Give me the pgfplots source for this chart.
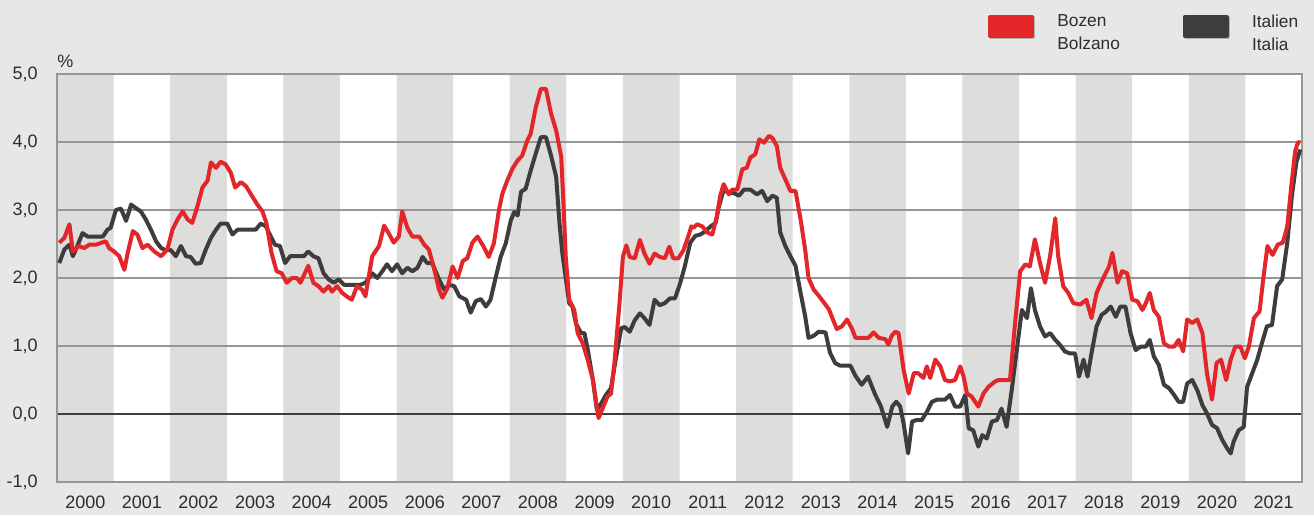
\documentclass[border=0pt]{standalone}
\usepackage{pgfplots}
\pgfplotsset{compat=1.18}
\usepackage{fontspec}
\setmainfont{Liberation Sans}
\definecolor{bgc}{RGB}{231,231,231}
\definecolor{band}{RGB}{221,221,219}
\definecolor{redl}{RGB}{226,38,42}
\definecolor{darkl}{RGB}{62,60,60}
\definecolor{gridc}{RGB}{150,150,150}
\definecolor{txt}{RGB}{45,45,45}
\pagecolor{bgc}
\begin{document}
\begin{tikzpicture}
\path (0,0) rectangle (985.5pt,386.25pt);
\begin{axis}[
  set layers, clip mode=individual,
  at={(42.75pt,24.75pt)}, anchor=south west,
  scale only axis, width=933.75pt, height=306pt,
  xmin=2000, xmax=2022, ymin=-1, ymax=5,
  axis background/.style={fill=white},
  axis line style={color=gridc, line width=0.9pt},
  major tick length=0pt,
  ytick={-1,0,1,2,3,4,5},
  yticklabels={{-1,0},{0,0},{1,0},{2,0},{3,0},{4,0},{5,0}},
  ymajorgrids, grid style={color=gridc, line width=0.8pt},
  extra y ticks={0}, extra y tick labels={},
  extra y tick style={grid style={color=darkl, line width=1.4pt}},
  xtick={2000.5,2001.5,...,2021.5},
  xticklabels={2000,2001,2002,2003,2004,2005,2006,2007,2008,2009,2010,2011,2012,2013,2014,2015,2016,2017,2018,2019,2020,2021},
  yticklabel style={anchor=east, inner sep=0pt, xshift=-14.25pt, font=\fontsize{13.5}{16}\selectfont, text=txt},
  xticklabel style={anchor=north, inner sep=0pt, yshift=-10pt, font=\fontsize{13.5}{16}\selectfont, text=txt},
  legend columns=2, reverse legend,
  legend style={draw=none, fill=none, inner sep=0pt, outer sep=0pt,
    at={(axis description cs:0.7478,1.1978)}, anchor=north west,
    row sep=0pt, column sep=0pt,
    nodes={inner sep=0pt, text width=94pt, align=left, font=\fontsize{13}{17.25}\selectfont, text=txt}},
]
% alternating year bands
\addplot[on layer=axis background, ybar interval, fill=band, draw=none, forget plot]
 coordinates {(2000,5) (2001,0) (2002,5) (2003,0) (2004,5) (2005,0) (2006,5) (2007,0) (2008,5) (2009,0) (2010,5) (2011,0) (2012,5) (2013,0) (2014,5) (2015,0) (2016,5) (2017,0) (2018,5) (2019,0) (2020,5) (2021,0) (2022,0)};
\addplot[on layer=axis background, ybar interval, fill=band, draw=none, forget plot]
 coordinates {(2000,-1) (2001,0) (2002,-1) (2003,0) (2004,-1) (2005,0) (2006,-1) (2007,0) (2008,-1) (2009,0) (2010,-1) (2011,0) (2012,-1) (2013,0) (2014,-1) (2015,0) (2016,-1) (2017,0) (2018,-1) (2019,0) (2020,-1) (2021,0) (2022,0)};
% Italien / Italia
\addplot[color=darkl, line width=3pt, line join=round,
  legend image code/.code={\path (0pt,20pt);\fill[black!30] (1pt,-11.25pt) rectangle (32.5pt,2.75pt);\fill[darkl] (0pt,-10.25pt) rectangle (31.5pt,3.75pt);\path (49pt,0pt);}]
coordinates {
(2000.04,2.22)(2000.13,2.42)(2000.22,2.49)(2000.28,2.32)(2000.36,2.47)(2000.45,2.66)(2000.54,2.61)(2000.63,2.61)(2000.81,2.61)(2000.89,2.71)(2000.95,2.74)
(2001.04,3.00)(2001.13,3.02)(2001.22,2.84)(2001.31,3.08)(2001.39,3.03)(2001.48,2.98)(2001.57,2.86)(2001.66,2.71)(2001.75,2.54)(2001.84,2.44)(2001.92,2.41)
(2002.01,2.41)(2002.10,2.32)(2002.19,2.47)(2002.28,2.32)(2002.36,2.31)(2002.45,2.21)(2002.54,2.22)(2002.63,2.42)(2002.72,2.59)(2002.81,2.71)(2002.89,2.80)
(2003.01,2.80)(2003.10,2.64)(2003.19,2.71)(2003.34,2.71)(2003.51,2.71)(2003.60,2.80)(2003.69,2.76)(2003.76,2.64)(2003.85,2.49)(2003.94,2.47)
(2004.03,2.22)(2004.12,2.32)(2004.27,2.32)(2004.36,2.32)(2004.44,2.39)(2004.53,2.32)(2004.62,2.29)(2004.71,2.07)(2004.80,1.98)(2004.89,1.93)(2004.98,1.98)
(2005.07,1.90)(2005.22,1.90)(2005.36,1.90)(2005.45,1.93)(2005.57,2.07)(2005.66,2.00)(2005.75,2.10)(2005.83,2.20)(2005.92,2.10)
(2006.01,2.20)(2006.10,2.07)(2006.19,2.15)(2006.28,2.10)(2006.37,2.15)(2006.46,2.31)(2006.54,2.22)(2006.63,2.22)(2006.75,1.98)(2006.84,1.83)(2006.93,1.90)
(2007.02,1.88)(2007.11,1.73)(2007.23,1.68)(2007.31,1.49)(2007.40,1.66)(2007.49,1.69)(2007.58,1.58)(2007.66,1.68)(2007.75,2.00)(2007.84,2.31)(2007.93,2.51)
(2008.02,2.85)(2008.08,2.97)(2008.14,2.92)(2008.20,3.27)(2008.28,3.31)(2008.37,3.58)(2008.46,3.83)(2008.55,4.07)(2008.64,4.07)(2008.73,3.80)(2008.82,3.49)(2008.88,2.80)(2008.93,2.36)(2008.99,2.00)
(2009.05,1.63)(2009.11,1.58)(2009.17,1.33)(2009.26,1.19)(2009.32,1.19)(2009.38,0.94)(2009.47,0.50)(2009.54,0.06)(2009.62,0.16)(2009.70,0.28)(2009.79,0.38)(2009.88,0.84)(2009.97,1.26)
(2010.03,1.28)(2010.12,1.21)(2010.21,1.38)(2010.30,1.48)(2010.38,1.41)(2010.47,1.31)(2010.56,1.68)(2010.65,1.60)(2010.74,1.63)(2010.83,1.70)(2010.92,1.70)
(2011.01,1.92)(2011.09,2.16)(2011.19,2.52)(2011.28,2.62)(2011.37,2.64)(2011.46,2.69)(2011.55,2.76)(2011.64,2.81)(2011.69,3.03)(2011.78,3.30)(2011.87,3.25)(2011.96,3.25)
(2012.05,3.21)(2012.14,3.30)(2012.25,3.30)(2012.37,3.23)(2012.46,3.28)(2012.55,3.13)(2012.64,3.21)(2012.72,3.18)(2012.78,2.67)(2012.87,2.47)(2012.96,2.32)
(2013.05,2.18)(2013.14,1.78)(2013.22,1.44)(2013.28,1.12)(2013.37,1.15)(2013.46,1.21)(2013.58,1.20)(2013.66,0.90)(2013.75,0.75)(2013.84,0.71)(2013.93,0.71)
(2014.02,0.71)(2014.11,0.56)(2014.22,0.43)(2014.33,0.55)(2014.45,0.30)(2014.56,0.11)(2014.67,-0.19)(2014.76,0.11)(2014.83,0.18)(2014.90,0.11)(2014.96,-0.14)
(2015.04,-0.58)(2015.11,-0.11)(2015.19,-0.09)(2015.28,-0.09)(2015.37,0.03)(2015.46,0.18)(2015.55,0.21)(2015.69,0.21)(2015.78,0.28)(2015.87,0.11)(2015.96,0.11)
(2016.05,0.28)(2016.11,-0.21)(2016.19,-0.24)(2016.28,-0.48)(2016.35,-0.31)(2016.43,-0.36)(2016.52,-0.11)(2016.61,-0.09)(2016.69,0.08)(2016.78,-0.19)(2016.87,0.35)(2016.96,0.94)
(2017.05,1.53)(2017.14,1.41)(2017.21,1.85)(2017.28,1.53)(2017.37,1.29)(2017.46,1.14)(2017.55,1.19)(2017.64,1.09)(2017.72,1.02)(2017.81,0.92)(2017.90,0.89)(2017.99,0.89)
(2018.06,0.55)(2018.14,0.80)(2018.21,0.55)(2018.28,0.89)(2018.37,1.29)(2018.46,1.46)(2018.53,1.50)(2018.62,1.58)(2018.71,1.43)(2018.79,1.58)(2018.88,1.58)(2018.97,1.19)
(2019.06,0.94)(2019.15,0.99)(2019.24,0.99)(2019.31,1.09)(2019.38,0.85)(2019.47,0.72)(2019.56,0.43)(2019.65,0.38)(2019.74,0.28)(2019.82,0.18)(2019.90,0.18)(2019.97,0.45)
(2020.06,0.50)(2020.15,0.35)(2020.24,0.13)(2020.32,0.01)(2020.41,-0.16)(2020.50,-0.21)(2020.59,-0.38)(2020.68,-0.51)(2020.74,-0.58)(2020.79,-0.41)(2020.88,-0.24)(2020.97,-0.19)
(2021.03,0.40)(2021.12,0.60)(2021.21,0.80)(2021.29,1.04)(2021.38,1.29)(2021.47,1.31)(2021.56,1.88)(2021.65,1.98)(2021.74,2.52)(2021.82,3.20)(2021.90,3.70)(2021.97,3.89)
};
\addlegendentry{Italien\\Italia}
% Bozen / Bolzano
\addplot[color=redl, line width=3pt, line join=round,
  legend image code/.code={\path (0pt,20pt);\fill[black!30] (1pt,-11.25pt) rectangle (32.5pt,2.75pt);\fill[redl] (0pt,-10.25pt) rectangle (31.5pt,3.75pt);\path (49pt,0pt);}]
coordinates {
(2000.04,2.52)(2000.13,2.59)(2000.22,2.79)(2000.28,2.39)(2000.39,2.47)(2000.48,2.44)(2000.57,2.49)(2000.69,2.49)(2000.86,2.54)(2000.92,2.44)
(2001.01,2.39)(2001.10,2.32)(2001.19,2.12)(2001.25,2.37)(2001.34,2.69)(2001.42,2.64)(2001.51,2.44)(2001.60,2.49)(2001.72,2.39)(2001.84,2.32)(2001.95,2.42)
(2002.04,2.71)(2002.13,2.86)(2002.22,2.98)(2002.31,2.86)(2002.39,2.81)(2002.48,3.05)(2002.57,3.33)(2002.66,3.43)(2002.72,3.70)(2002.81,3.62)(2002.89,3.71)(2002.98,3.67)
(2003.07,3.55)(2003.15,3.33)(2003.25,3.41)(2003.34,3.35)(2003.45,3.20)(2003.54,3.08)(2003.63,2.98)(2003.70,2.81)(2003.79,2.37)(2003.88,2.10)(2003.97,2.07)
(2004.06,1.93)(2004.15,2.00)(2004.24,2.00)(2004.30,1.93)(2004.38,2.07)(2004.44,2.18)(2004.53,1.93)(2004.62,1.88)(2004.71,1.80)(2004.80,1.88)(2004.86,1.80)(2004.95,1.88)
(2005.04,1.78)(2005.12,1.73)(2005.21,1.68)(2005.30,1.88)(2005.39,1.83)(2005.45,1.73)(2005.57,2.32)(2005.69,2.47)(2005.78,2.77)(2005.86,2.66)(2005.95,2.52)
(2006.04,2.61)(2006.10,2.98)(2006.19,2.74)(2006.28,2.61)(2006.40,2.61)(2006.49,2.49)(2006.57,2.42)(2006.66,2.15)(2006.75,1.83)(2006.81,1.71)(2006.90,1.85)(2006.99,2.17)
(2007.08,2.00)(2007.17,2.25)(2007.25,2.29)(2007.34,2.52)(2007.43,2.61)(2007.54,2.46)(2007.63,2.31)(2007.72,2.51)(2007.81,3.00)(2007.87,3.24)(2007.96,3.44)
(2008.05,3.61)(2008.14,3.73)(2008.22,3.80)(2008.31,4.02)(2008.37,4.12)(2008.46,4.51)(2008.55,4.78)(2008.64,4.78)(2008.73,4.42)(2008.82,4.17)(2008.91,3.78)(2008.95,3.09)(2008.99,2.31)
(2009.05,1.68)(2009.14,1.53)(2009.20,1.19)(2009.29,1.04)(2009.38,0.79)(2009.47,0.50)(2009.53,0.16)(2009.57,-0.06)(2009.64,0.08)(2009.73,0.26)(2009.79,0.30)(2009.85,0.75)(2009.94,1.63)
(2010.00,2.31)(2010.06,2.48)(2010.12,2.31)(2010.21,2.29)(2010.30,2.56)(2010.38,2.36)(2010.47,2.21)(2010.56,2.36)(2010.65,2.31)(2010.74,2.29)(2010.82,2.46)(2010.89,2.29)(2010.98,2.29)
(2011.07,2.41)(2011.15,2.60)(2011.21,2.76)(2011.25,2.74)(2011.31,2.79)(2011.40,2.76)(2011.49,2.67)(2011.58,2.64)(2011.66,2.91)(2011.72,3.21)(2011.78,3.38)(2011.87,3.23)(2011.93,3.30)
(2012.02,3.30)(2012.11,3.60)(2012.19,3.62)(2012.25,3.77)(2012.34,3.82)(2012.41,4.04)(2012.49,3.99)(2012.58,4.09)(2012.64,4.06)(2012.72,3.94)(2012.78,3.62)(2012.87,3.45)(2012.96,3.28)
(2013.05,3.28)(2013.14,2.86)(2013.22,2.42)(2013.28,2.00)(2013.37,1.83)(2013.46,1.74)(2013.55,1.64)(2013.64,1.54)(2013.72,1.37)(2013.78,1.25)(2013.87,1.29)(2013.96,1.39)
(2014.05,1.25)(2014.11,1.12)(2014.22,1.12)(2014.34,1.12)(2014.43,1.20)(2014.52,1.12)(2014.64,1.10)(2014.69,1.02)(2014.75,1.15)(2014.81,1.21)(2014.87,1.19)(2014.96,0.65)
(2015.05,0.30)(2015.14,0.60)(2015.22,0.60)(2015.31,0.53)(2015.37,0.70)(2015.43,0.53)(2015.52,0.80)(2015.61,0.70)(2015.69,0.50)(2015.78,0.48)(2015.87,0.50)(2015.96,0.70)
(2016.02,0.55)(2016.08,0.30)(2016.16,0.26)(2016.28,0.11)(2016.37,0.30)(2016.46,0.40)(2016.58,0.48)(2016.64,0.50)(2016.75,0.50)(2016.84,0.50)(2016.93,1.34)
(2017.02,2.10)(2017.11,2.20)(2017.19,2.17)(2017.28,2.57)(2017.37,2.22)(2017.46,1.93)(2017.55,2.33)(2017.64,2.88)(2017.69,2.33)(2017.78,1.88)(2017.87,1.78)(2017.96,1.63)
(2018.08,1.61)(2018.19,1.68)(2018.28,1.41)(2018.37,1.78)(2018.46,1.95)(2018.53,2.07)(2018.59,2.17)(2018.65,2.37)(2018.74,1.93)(2018.82,2.10)(2018.91,2.07)
(2019.00,1.68)(2019.09,1.66)(2019.18,1.53)(2019.24,1.63)(2019.31,1.78)(2019.38,1.53)(2019.47,1.43)(2019.56,1.04)(2019.65,0.99)(2019.74,0.99)(2019.82,1.09)(2019.90,0.92)(2019.97,1.39)
(2020.06,1.34)(2020.15,1.39)(2020.24,1.19)(2020.32,0.60)(2020.41,0.21)(2020.49,0.75)(2020.57,0.80)(2020.66,0.50)(2020.74,0.80)(2020.82,0.99)(2020.91,0.99)(2020.99,0.82)
(2021.06,0.99)(2021.15,1.41)(2021.25,1.51)(2021.32,2.02)(2021.39,2.47)(2021.48,2.34)(2021.57,2.49)(2021.66,2.52)(2021.74,2.76)(2021.81,3.35)(2021.88,3.87)(2021.93,4.00)(2021.97,3.99)
};
\addlegendentry{Bozen\\Bolzano}
\end{axis}
\node[anchor=south west, inner sep=0pt, font=\fontsize{13.5}{16}\selectfont, text=txt] at (42.75pt,335.25pt) {\%};
\pgfresetboundingbox
\path (0,0) rectangle (985.5pt,386.25pt);
\end{tikzpicture}
\end{document}
